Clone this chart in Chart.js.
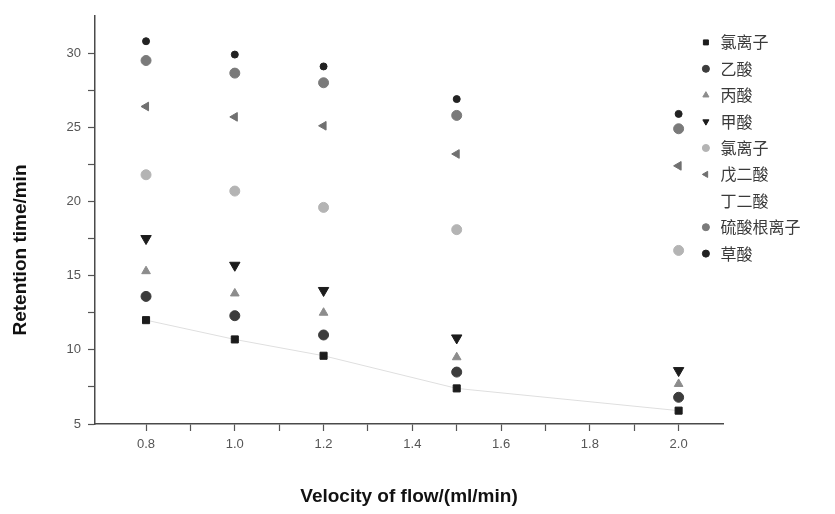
<!DOCTYPE html>
<html>
<head>
<meta charset="utf-8">
<script src="https://cdn.jsdelivr.net/npm/chart.js@4/dist/chart.umd.min.js"></script>
<style>
html,body{margin:0;padding:0;background:#fff;}
#wrap{width:835px;height:514px;}
</style>
</head>
<body>
<div id="wrap"><canvas id="c" width="835" height="514"></canvas></div>
<script>
const velocities = [0.8, 1.0, 1.2, 1.5, 2.0];
const chloride1 = [12.0, 10.7, 9.6, 7.4, 5.9];
const acetic = [13.6, 12.3, 11.0, 8.5, 6.8];
const propionic = [15.3, 13.8, 12.5, 9.5, 7.7];
const formic = [17.5, 15.7, 14.0, 10.8, 8.6];
const chloride2 = [21.8, 20.7, 19.6, 18.1, 16.7];
const glutaric = [26.4, 25.7, 25.1, 23.2, 22.4];
const succinic = [];
const sulfate = [29.5, 28.65, 28.0, 25.8, 24.9];
const oxalic = [30.8, 29.9, 29.1, 26.9, 25.9];

const seriesNames = ['氯离子', '乙酸', '丙酸', '甲酸', '氯离子', '戊二酸', '丁二酸', '硫酸根离子', '草酸'];
const xTickValues = [0.8, 0.9, 1.0, 1.1, 1.2, 1.3, 1.4, 1.5, 1.6, 1.7, 1.8, 1.9, 2.0];
const yTickValues = [5, 7.5, 10, 12.5, 15, 17.5, 20, 22.5, 25, 27.5, 30];
const xTitle = 'Velocity of flow/(ml/min)';
const yTitle = 'Retention time/min';

function pts(arr){ return arr.map((v,i)=>({x: velocities[i], y: v})); }

function ds(label, data, style, color, radius, rotation, extra){
  return Object.assign({
    label: label,
    data: pts(data),
    pointStyle: style,
    pointRadius: radius,
    pointRotation: rotation || 0,
    backgroundColor: color,
    borderColor: color,
    pointBorderWidth: 1,
    showLine: false
  }, extra || {});
}

const datasets = [
  ds(seriesNames[0], chloride1, 'rect', '#1c1c1c', 5, 0, {showLine: true, borderColor: 'rgba(0,0,0,0.13)', borderWidth: 1, pointBorderColor: '#1c1c1c', pointBackgroundColor: '#1c1c1c'}),
  ds(seriesNames[1], acetic, 'circle', '#3c3c3c', 5),
  ds(seriesNames[2], propionic, 'triangle', '#8c8c8c', 5),
  ds(seriesNames[3], formic, 'triangle', '#1c1c1c', 6, 180),
  ds(seriesNames[4], chloride2, 'circle', '#b4b4b4', 5),
  ds(seriesNames[5], glutaric, 'triangle', '#707070', 5, -90),
  ds(seriesNames[6], succinic, 'circle', 'rgba(0,0,0,0)', 0),
  ds(seriesNames[7], sulfate, 'circle', '#7a7a7a', 5),
  ds(seriesNames[8], oxalic, 'circle', '#222222', 3.5)
];

const legendPlace = {
  id: 'legendPlace',
  afterLayout(chart){
    const lg = chart.legend;
    if (!lg) return;
    const w = lg.width;
    lg.left = 689; lg.top = 24;
    lg.right = lg.left + w; lg.bottom = lg.top + 320;
  }
};

const yTitlePlugin = {
  id: 'yTitlePlugin',
  afterDraw(chart){
    const ctx = chart.ctx;
    ctx.save();
    ctx.translate(21, 250);
    ctx.rotate(-Math.PI/2);
    ctx.font = 'bold 19px "Liberation Sans", Arial, sans-serif';
    ctx.fillStyle = '#111';
    ctx.textAlign = 'center';
    ctx.textBaseline = 'middle';
    ctx.fillText(yTitle, 0, 0);
    ctx.restore();
  }
};

new Chart(document.getElementById('c'), {
  type: 'scatter',
  data: { datasets: datasets },
  plugins: [legendPlace, yTitlePlugin],
  options: {
    responsive: false,
    devicePixelRatio: 1,
    animation: false,
    layout: { padding: { left: 0, top: 16, right: 112, bottom: 0 } },
    plugins: {
      tooltip: { enabled: false },
      legend: {
        display: true,
        position: 'chartArea',
        align: 'start',
        labels: {
          usePointStyle: true,
          boxWidth: 13,
          boxHeight: 5,
          padding: 10.4,
          color: '#3a3a3a',
          font: { family: '"Noto Sans CJK SC", sans-serif', size: 16 }
        }
      }
    },
    scales: {
      x: {
        type: 'linear',
        min: 0.685,
        max: 2.1,
        afterBuildTicks: s => { s.ticks = xTickValues.map(v => ({value: v})); },
        afterFit: s => { s.height = 90; },
        grid: { drawOnChartArea: false, drawTicks: true, tickLength: 7, tickColor: '#555', tickWidth: 1.2 },
        border: { display: true, color: '#4a4a4a', width: 1.5 },
        ticks: {
          padding: 6,
          color: '#555',
          maxRotation: 0,
          autoSkip: false,
          font: { family: '"Liberation Sans", Arial, sans-serif', size: 13 },
          callback: v => (Math.round(v*10) % 2 === 0 ? v.toFixed(1) : '')
        },
        title: {
          display: true,
          text: xTitle,
          color: '#111',
          font: { family: '"Liberation Sans", Arial, sans-serif', size: 19, weight: 'bold' },
          padding: { top: 0, bottom: 6 }
        }
      },
      y: {
        type: 'linear',
        min: 5,
        max: 32.5,
        afterBuildTicks: s => { s.ticks = yTickValues.map(v => ({value: v})); },
        afterFit: s => { s.width = 95; },
        grid: { drawOnChartArea: false, drawTicks: true, tickLength: 7, tickColor: '#555', tickWidth: 1.2 },
        border: { display: true, color: '#4a4a4a', width: 1.5 },
        ticks: {
          padding: 7,
          color: '#555',
          autoSkip: false,
          font: { family: '"Liberation Sans", Arial, sans-serif', size: 13 },
          callback: v => (v % 5 === 0 ? String(v) : '')
        },
        title: { display: false }
      }
    }
  }
});
</script>
</body>
</html>
